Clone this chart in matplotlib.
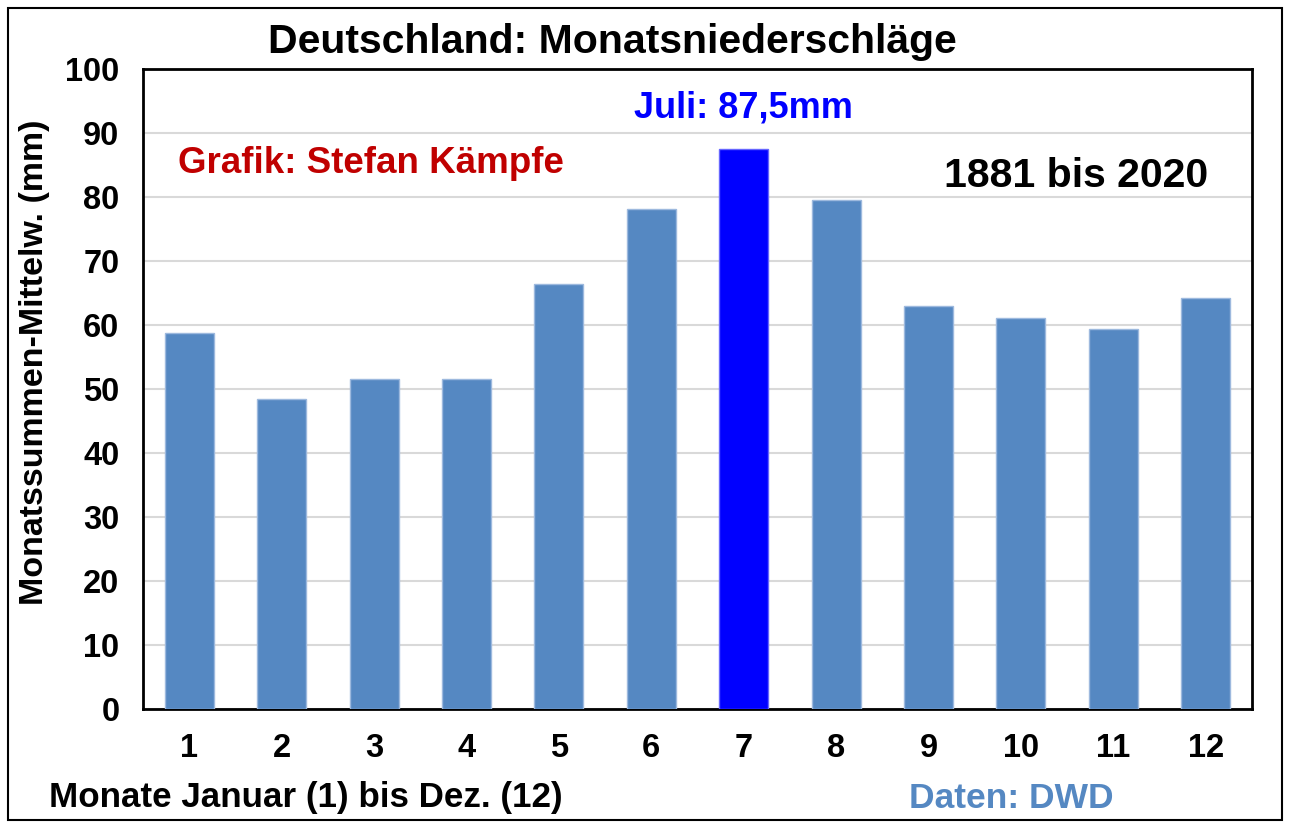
import matplotlib.pyplot as plt
from matplotlib.patches import Rectangle

plt.rcParams['font.family'] = ['Liberation Sans', 'DejaVu Sans']
plt.rcParams['font.weight'] = 'bold'

months = list(range(1, 13))
rain = [58.7, 48.5, 51.6, 51.6, 66.4, 78.1, 87.5, 79.6, 62.9, 61.1, 59.3, 64.2]
highlight = 7

bar_col = '#5588C2'
colors = ['#0000FF' if m == highlight else bar_col for m in months]
edges = ['#6666FF' if m == highlight else '#9DB9DE' for m in months]

fig = plt.figure(figsize=(12.9, 8.27), dpi=100)
ax = fig.add_axes([0.1109, 0.1427, 0.8596, 0.7739])

ax.bar(months, rain, width=0.53, color=colors, edgecolor=edges, linewidth=1, zorder=3)
ax.set_xlim(0.5, 12.5)
ax.set_ylim(0, 100)
ax.set_yticks(range(0, 101, 10))
ax.set_xticks(months)
ax.yaxis.grid(True, color='#D9D9D9', linewidth=1.5, zorder=0)
ax.tick_params(length=0, labelsize=23.5)
ax.tick_params(axis='y', pad=17)
ax.tick_params(axis='x', pad=17)
for s in ax.spines.values():
    s.set_linewidth(2)
    s.set_color('black')

fig.text(0.475, 0.949, 'Deutschland: Monatsniederschläge', fontsize=29.5,
         fontweight='bold', ha='center', va='center')
fig.text(0.027, 0.562, 'Monatssummen-Mittelw. (mm)', fontsize=24.5,
         fontweight='bold', rotation=90, ha='center', va='center')
fig.text(0.038, 0.036, 'Monate Januar (1) bis Dez. (12)', fontsize=25.2,
         fontweight='bold', ha='left', va='center')
fig.text(0.705, 0.035, 'Daten: DWD', fontsize=25.5, fontweight='bold',
         color=bar_col, ha='left', va='center')

ax.text(7, 93.9, 'Juli: 87,5mm', fontsize=26, fontweight='bold',
        color='#0000FF', ha='center', va='center')
ax.text(0.88, 85.3, 'Grafik: Stefan Kämpfe', fontsize=26.5, fontweight='bold',
        color='#C00000', ha='left', va='center')
ax.text(12.03, 83.3, '1881 bis 2020', fontsize=29.5, fontweight='bold',
        color='black', ha='right', va='center')

fig.patches.append(Rectangle((0.006, 0.008), 0.988, 0.982, transform=fig.transFigure,
                             fill=False, edgecolor='black', linewidth=1.5))

fig.savefig('out.png', dpi=100)
